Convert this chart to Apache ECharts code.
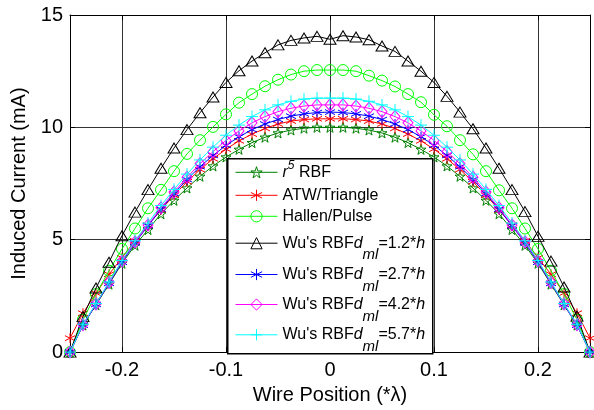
<!DOCTYPE html>
<html><head><meta charset="utf-8">
<script src="https://cdn.jsdelivr.net/npm/echarts@6/dist/echarts.min.js"></script>
<style>html,body{margin:0;padding:0;background:#fff}#c{width:594px;height:410px}</style>
</head><body><div id="c"></div>
<script>
const xs = [-0.25,-0.2375,-0.225,-0.2125,-0.2,-0.1875,-0.175,-0.1625,-0.15,-0.1375,-0.125,-0.1125,-0.1,-0.0875,-0.075,-0.0625,-0.05,-0.0375,-0.025,-0.0125,0,0.0125,0.025,0.0375,0.05,0.0625,0.075,0.0875,0.1,0.1125,0.125,0.1375,0.15,0.1625,0.175,0.1875,0.2,0.2125,0.225,0.2375,0.25];
const r5 = [0,1.2,2.1,3.02,3.95,4.75,5.45,6.15,6.75,7.3,7.82,8.28,8.68,9.02,9.32,9.56,9.75,9.88,9.96,10.0,10.0,10.0,9.96,9.88,9.75,9.56,9.32,9.02,8.68,8.28,7.82,7.3,6.75,6.15,5.45,4.75,3.95,3.02,2.1,1.2,0];
const atw = [0.62,1.73,2.62,3.46,4.2,4.95,5.65,6.33,6.98,7.58,8.12,8.6,9.03,9.4,9.7,9.95,10.15,10.28,10.35,10.38,10.38,10.38,10.35,10.28,10.15,9.95,9.7,9.4,9.03,8.6,8.12,7.58,6.98,6.33,5.65,4.95,4.2,3.46,2.62,1.73,0.62];
const hallen = [0,1.44,2.58,3.62,4.59,5.5,6.4,7.22,8.05,8.82,9.43,10.02,10.58,11.1,11.48,11.83,12.12,12.35,12.5,12.55,12.55,12.55,12.5,12.3,12.08,11.82,11.48,11.12,10.56,10.05,9.43,8.8,8.05,7.2,6.4,5.5,4.59,3.62,2.58,1.44,0];
const wu12 = [0,1.58,2.85,4.0,5.18,6.23,7.23,8.18,9.08,9.9,10.65,11.35,12.0,12.52,12.95,13.32,13.67,13.87,13.98,14.05,13.92,14.08,14.02,13.9,13.62,13.38,12.95,12.5,12.0,11.38,10.68,9.94,9.08,8.18,7.23,6.25,5.15,4.05,2.9,1.6,0];
const wu27 = [0,1.2,2.12,3.06,4.0,4.86,5.62,6.36,7.05,7.68,8.25,8.75,9.2,9.58,9.9,10.15,10.35,10.5,10.6,10.66,10.68,10.66,10.6,10.5,10.35,10.15,9.9,9.58,9.2,8.75,8.25,7.68,7.05,6.36,5.62,4.86,4.0,3.06,2.12,1.2,0];
const wu42 = [0,1.22,2.14,3.1,4.05,4.9,5.66,6.42,7.12,7.78,8.38,8.92,9.42,9.84,10.2,10.48,10.7,10.85,10.95,11.0,11.0,11.0,10.95,10.85,10.7,10.48,10.2,9.84,9.42,8.92,8.38,7.78,7.12,6.42,5.66,4.9,4.05,3.1,2.14,1.22,0];
const wu57 = [0,1.24,2.16,3.12,4.08,4.95,5.74,6.52,7.24,7.92,8.55,9.12,9.65,10.1,10.48,10.78,11.0,11.16,11.26,11.3,11.3,11.3,11.26,11.16,11.0,10.78,10.48,10.1,9.65,9.12,8.55,7.92,7.24,6.52,5.74,4.95,4.08,3.12,2.16,1.24,0];
const xTicks = [-0.2,-0.1,0,0.1,0.2];
const yTicks = [0,5,10,15];
const names = ["r5 RBF","ATW/Triangle","Hallen/Pulse","Wu's RBF dml=1.2*h","Wu's RBF dml=2.7*h","Wu's RBF dml=4.2*h","Wu's RBF dml=5.7*h"];
const legendRich = {
  "r5 RBF": "{i|r}{sup|5}{n| RBF}",
  "ATW/Triangle": "{n|ATW/Triangle}",
  "Hallen/Pulse": "{n|Hallen/Pulse}",
  "Wu's RBF dml=1.2*h": "{n|Wu's RBF}{i|d}{sub|ml}{n|=1.2*}{i|h}",
  "Wu's RBF dml=2.7*h": "{n|Wu's RBF}{i|d}{sub|ml}{n|=2.7*}{i|h}",
  "Wu's RBF dml=4.2*h": "{n|Wu's RBF}{i|d}{sub|ml}{n|=4.2*}{i|h}",
  "Wu's RBF dml=5.7*h": "{n|Wu's RBF}{i|d}{sub|ml}{n|=5.7*}{i|h}"
};
const values = [r5, atw, hallen, wu12, wu27, wu42, wu57];
const colors = ['#008000','#ff0000','#00ff00','#000000','#0000ff','#ff00ff','#00ffff'];
const STAR = 'path://M5,0 L6.18,3.62 L10,3.62 L6.91,5.85 L8.09,9.51 L5,7.27 L1.91,9.51 L3.09,5.85 L0,3.62 L3.82,3.62 Z';
const AST = 'path://M5,0L5,10M0.67,2.5L9.33,7.5M0.67,7.5L9.33,2.5';
const PLUS = 'path://M5,0L5,10M0,5L10,5';
const symbols = [STAR, AST, 'circle', 'triangle', AST, 'diamond', PLUS];
const sizes = [10, 10, 11, [12,10], 10, [10,12], 12];

const FONT = "'Liberation Sans', Arial, sans-serif";
const chart = echarts.init(document.getElementById('c'), null, {renderer:'canvas'});

const series = names.map((nm, k) => ({
  name: nm, type: 'line',
  data: xs.map((x, i) => [x, values[k][i]]),
  symbol: symbols[k], symbolSize: sizes[k], showAllSymbol: true,
  lineStyle: {color: colors[k], width: 1},
  itemStyle: {color: 'rgba(0,0,0,0)', borderColor: colors[k], borderWidth: 1},
  emphasis: {disabled: true}, animation: false, z: 2 + k*0.01
}));

const rows = [172.3, 197.3, 218.3, 242.7, 274, 304, 334.3];
const hts = [26, 20, 20, 38, 38, 38, 38];
const rich = {
  n: {fontSize: 16, fontFamily: FONT, color: '#000', lineHeight: 20},
  i: {fontSize: 16, fontFamily: FONT, fontStyle: 'italic', color: '#000', lineHeight: 20},
  sub: {fontSize: 15, fontFamily: FONT, fontStyle: 'italic', color: '#000', lineHeight: 14, padding: [24,0,0,0]},
  sup: {fontSize: 12, fontFamily: FONT, fontStyle: 'italic', color: '#000', lineHeight: 12, padding: [0,0,14,0]}
};
const legends = names.map((nm, k) => ({
  data: [nm], left: 235, top: rows[k] - hts[k]/2, orient: 'vertical',
  itemWidth: 42, itemHeight: 14, padding: 0, selectedMode: false, z: 6,
  itemStyle: {color: 'rgba(0,0,0,0)', borderColor: colors[k], borderWidth: 1},
  lineStyle: {color: colors[k], width: 1},
  formatter: n => legendRich[n],
  textStyle: {rich: rich, fontFamily: FONT, fontSize: 16, color: '#000'}
}));

const axisLbl = {fontFamily: FONT, fontSize: 20, color: '#000'};
chart.setOption({
  animation: false,
  backgroundColor: '#fff',
  grid: {left: 70, right: 4, top: 15, bottom: 54},
  xAxis: [{
    type: 'value', min: -0.25, max: 0.25, position: 'bottom',
    name: 'Wire Position (*λ)', nameLocation: 'middle', nameGap: 30,
    nameTextStyle: {fontFamily: FONT, fontSize: 20, color: '#000'},
    axisLine: {show: true, onZero: false, lineStyle: {color: '#000', width: 1}},
    axisTick: {show: true, inside: true, length: 5, customValues: xTicks, lineStyle: {color: '#000'}},
    axisLabel: Object.assign({customValues: xTicks, margin: 8, formatter: v => String(v)}, axisLbl),
    splitLine: {show: true, lineStyle: {color: '#333', width: 1}}
  }, {
    type: 'value', min: -0.25, max: 0.25, position: 'top',
    axisLine: {show: true, onZero: false, lineStyle: {color: '#000', width: 1}},
    axisTick: {show: true, inside: true, length: 5, customValues: xTicks, lineStyle: {color: '#000'}},
    axisLabel: {show: false}, splitLine: {show: false}
  }],
  yAxis: [{
    type: 'value', min: 0, max: 15, interval: 5, position: 'left',
    name: 'Induced Current (mA)', nameLocation: 'middle', nameGap: 40,
    nameTextStyle: {fontFamily: FONT, fontSize: 20, color: '#000'},
    axisLine: {show: true, onZero: false, lineStyle: {color: '#000', width: 1}},
    axisTick: {show: true, inside: true, length: 5, lineStyle: {color: '#000'}},
    axisLabel: Object.assign({margin: 7}, axisLbl),
    splitLine: {show: true, lineStyle: {color: '#333', width: 1}}
  }, {
    type: 'value', min: 0, max: 15, interval: 5, position: 'right',
    axisLine: {show: true, onZero: false, lineStyle: {color: '#000', width: 1}},
    axisTick: {show: true, inside: true, length: 5, lineStyle: {color: '#000'}},
    axisLabel: {show: false}, splitLine: {show: false}
  }],
  legend: legends,
  graphic: [{
    type: 'rect', left: 227, top: 158, z: 5,
    shape: {width: 205, height: 195},
    style: {fill: '#fff', stroke: '#000', lineWidth: 1.5}
  }],
  series: series
});
</script></body></html>
